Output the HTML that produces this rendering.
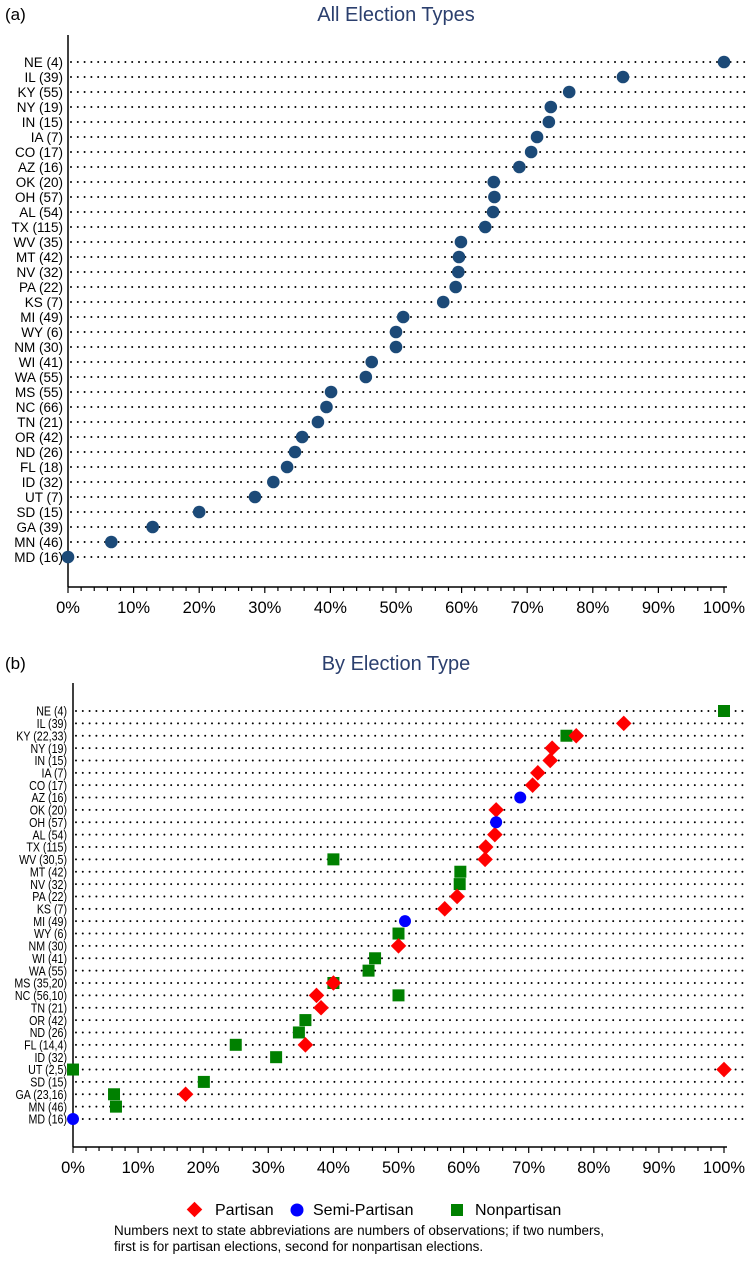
<!DOCTYPE html>
<html><head><meta charset="utf-8"><style>
body{margin:0;background:#fff;}
svg text{font-family:"Liberation Sans",Arial,sans-serif;}
</style></head><body>
<svg id="chart" width="747" height="1267" viewBox="0 0 747 1267" xmlns="http://www.w3.org/2000/svg">
<text x="5" y="20" font-size="17">(a)</text>
<text x="396" y="21" font-size="20" fill="#2b3f6e" text-anchor="middle">All Election Types</text>
<text x="5" y="669" font-size="17">(b)</text>
<text x="396" y="670" font-size="20" fill="#2b3f6e" text-anchor="middle">By Election Type</text>
<g id="pa"></g><g id="pb"></g>
<g>
<g><rect x="189" y="1204" width="11" height="11" fill="#f00" transform="rotate(45 194.5 1209.5)"/><text x="215" y="1215" font-size="16">Partisan</text></g>
<g><circle cx="297" cy="1210" r="6.5" fill="#00f"/><text x="313" y="1215" font-size="16">Semi-Partisan</text></g>
<g><rect x="451" y="1204" width="12" height="12" fill="#008000"/><text x="475" y="1215" font-size="16">Nonpartisan</text></g>
</g>
<text x="114" y="1235" font-size="13.5">Numbers next to state abbreviations are numbers of observations; if two numbers,</text>
<text x="114" y="1251" font-size="13.5">first is for partisan elections, second for nonpartisan elections.</text>
</svg>
<script>
const NS="http://www.w3.org/2000/svg";
const statesA=["NE (4)","IL (39)","KY (55)","NY (19)","IN (15)","IA (7)","CO (17)","AZ (16)","OK (20)","OH (57)","AL (54)","TX (115)","WV (35)","MT (42)","NV (32)","PA (22)","KS (7)","MI (49)","WY (6)","NM (30)","WI (41)","WA (55)","MS (55)","NC (66)","TN (21)","OR (42)","ND (26)","FL (18)","ID (32)","UT (7)","SD (15)","GA (39)","MN (46)","MD (16)"];
const valuesA=[100,84.6,76.4,73.6,73.3,71.5,70.6,68.8,64.9,65,64.8,63.6,59.9,59.6,59.5,59.1,57.2,51.1,50,50,46.3,45.4,40.1,39.4,38.1,35.7,34.6,33.4,31.3,28.5,20,12.9,6.6,0];
const statesB=["NE (4)","IL (39)","KY (22,33)","NY (19)","IN (15)","IA (7)","CO (17)","AZ (16)","OK (20)","OH (57)","AL (54)","TX (115)","WV (30,5)","MT (42)","NV (32)","PA (22)","KS (7)","MI (49)","WY (6)","NM (30)","WI (41)","WA (55)","MS (35,20)","NC (56,10)","TN (21)","OR (42)","ND (26)","FL (14,4)","ID (32)","UT (2,5)","SD (15)","GA (23,16)","MN (46)","MD (16)"];
const partisanB=[null,84.6,77.3,73.6,73.3,71.4,70.6,null,65,null,64.8,63.4,63.3,null,null,59,57.1,null,null,50,null,null,40,37.4,38.1,null,null,35.7,null,100,null,17.3,null,null];
const semiB=[null,null,null,null,null,null,null,68.7,null,65,null,null,null,null,null,null,null,51,null,null,null,null,null,null,null,null,null,null,null,null,null,null,null,0];
const nonpartisanB=[100,null,75.8,null,null,null,null,null,null,null,null,null,40,59.5,59.4,null,null,null,50,null,46.4,45.4,40,50,null,35.7,34.7,25,31.2,0,20.1,6.3,6.6,null];
const ticks=[0,10,20,30,40,50,60,70,80,90,100];
function el(t,a,p){const e=document.createElementNS(NS,t);for(const k in a)e.setAttribute(k,a[k]);p.appendChild(e);return e;}
function panel(g,labels,x0,x1,y0,y1,axisY,axTop,fs,lblX,sx){
  const n=labels.length;
  const X=v=>x0+(x1-x0)*v/100, Y=i=>y0+(y1-y0)*i/(n-1);
  labels.forEach((s,i)=>{
    const ln=el('line',{x1:x0+3,x2:745,y1:Y(i),y2:Y(i),stroke:'#000','stroke-width':2,'stroke-dasharray':'0 6.8','stroke-linecap':'round'},g);
    
    
    const t=el('text',{x:0,y:0,'font-size':fs,'text-anchor':'end',transform:`translate(${lblX} ${Y(i)+fs*0.36}) scale(${sx} 1)`},g);
    
    
    t.textContent=s;
  });
  const ax=el('line',{x1:x0,x2:x0,y1:axTop,y2:axisY,stroke:'#000','stroke-width':1.5},g);
  
  
  const bx=el('line',{x1:x0,x2:x1+3,y1:axisY,y2:axisY,stroke:'#000','stroke-width':1.5},g);
  
  
  for(let v=0;v<=100;v+=2){const tk=el('line',{x1:X(v),x2:X(v),y1:axisY,y2:axisY+(v%10?4:6),stroke:'#000','stroke-width':1.2},g);
    
    }
  ticks.forEach(v=>{const t=el('text',{x:X(v),y:axisY+26,'font-size':16.5,'text-anchor':'middle'},g);
    
    
    t.textContent=v+'%';});
  return {X,Y};
}
const ga=document.getElementById('pa'), gb=document.getElementById('pb');
const A=panel(ga,statesA,68,724,62,557,587,35,13.5,63,1);
valuesA.forEach((v,i)=>{const c=el('circle',{cx:A.X(v),cy:A.Y(i),r:6.3,fill:'#1c4a78'},ga);
  
  });
const B=panel(gb,statesB,73,724,711,1119,1147,683,13,67,0.82);
nonpartisanB.forEach((v,i)=>{if(v===null)return;const x=B.X(v),y=B.Y(i);
  const r=el('rect',{x:x-6,y:y-6,width:12,height:12,fill:'#008000'},gb);
  
  });
partisanB.forEach((v,i)=>{if(v===null)return;const x=B.X(v),y=B.Y(i);
  const r=el('rect',{x:x-5.5,y:y-5.5,width:11,height:11,fill:'#f00',transform:`rotate(45 ${x} ${y})`},gb);
  
  });
semiB.forEach((v,i)=>{if(v===null)return;
  const c=el('circle',{cx:B.X(v),cy:B.Y(i),r:6,fill:'#00f'},gb);
  
  });
</script>
</body></html>
